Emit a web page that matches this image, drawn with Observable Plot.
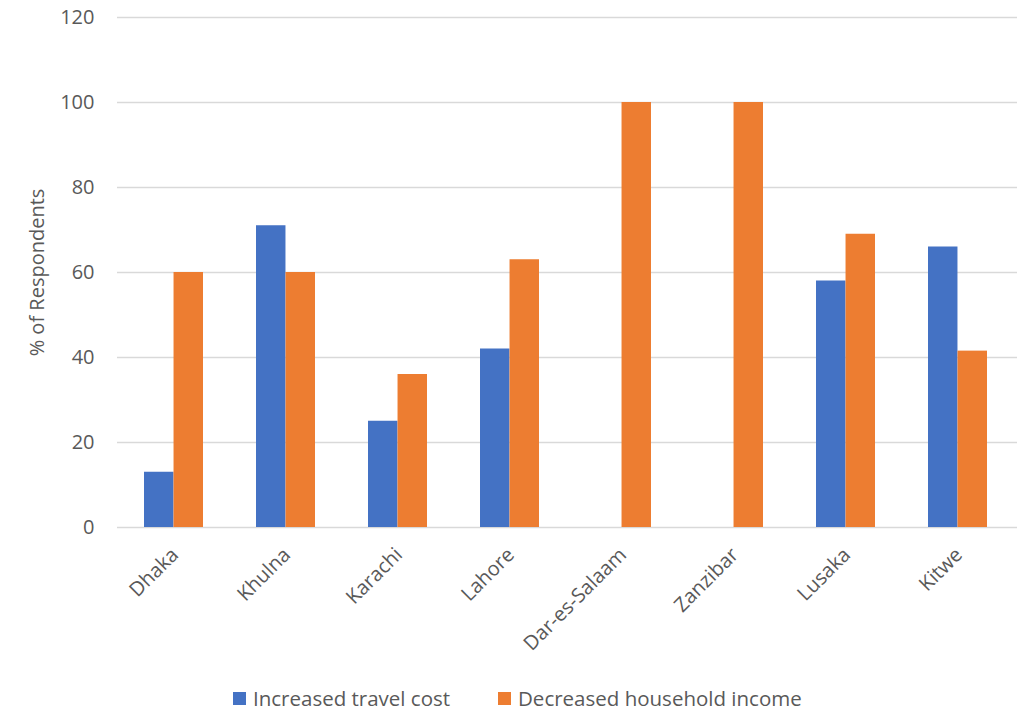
<!DOCTYPE html>
<html>
<head>
<meta charset="utf-8">
<script src="https://cdn.jsdelivr.net/npm/d3@7"></script>
<script src="https://cdn.jsdelivr.net/npm/@observablehq/plot@0.6"></script>
<style>
  body { margin: 0; background: #fff; font-family: "Open Sans", sans-serif; }
  #chart { width: 1023px; }
  .legend { position: relative; height: 33px; width: 1023px; }
  .legend .item { position: absolute; top: 9px; display: flex; align-items: center; font-size: 20.5px; color: #595959; line-height: 22px; white-space: nowrap; }
  .legend .sw { width: 13px; height: 13px; margin-right: 7px; display: inline-block; }
</style>
</head>
<body>
<div id="chart"></div>
<script>
const cities = ["Dhaka", "Khulna", "Karachi", "Lahore", "Dar-es-Salaam", "Zanzibar", "Lusaka", "Kitwe"];
const travelCost = [13, 71, 25, 42, 0, 0, 58, 66];
const householdIncome = [60, 60, 36, 63, 100, 100, 69, 41.5];
const seriesNames = ["Increased travel cost", "Decreased household income"];
const seriesColors = ["#4472C4", "#ED7D31"];
const yTicks = [0, 20, 40, 60, 80, 100, 120];

const W = 1023, H = 678, ML = 117, MR = 6, MT = 17, MB = 151;
const padInner = 0.475;
const step = (W - ML - MR) / cities.length;
const half = step * (1 - padInner) / 2;

const blueData = cities.map((c, i) => ({city: c, value: travelCost[i], series: seriesNames[0]}));
const orangeData = cities.map((c, i) => ({city: c, value: householdIncome[i], series: seriesNames[1]}));

const chart = Plot.plot({
  width: W, height: H,
  marginLeft: ML, marginRight: MR, marginTop: MT, marginBottom: MB,
  style: {fontFamily: "Open Sans, sans-serif", fontSize: "20px", color: "#595959", background: "white"},
  x: {domain: cities, paddingInner: padInner, paddingOuter: padInner / 2, range: [ML - 2, W - MR - 2]},
  y: {domain: [0, 120]},
  color: {domain: seriesNames, range: seriesColors},
  marks: [
    Plot.ruleY(yTicks, {stroke: "#d9d9d9", strokeWidth: 1.5}),
    Plot.barY(blueData.filter(d => d.value > 0), {x: "city", y: "value", fill: "series", insetRight: half}),
    Plot.barY(orangeData.filter(d => d.value > 0), {x: "city", y: "value", fill: "series", insetLeft: half}),
    Plot.axisY({ticks: yTicks, tickSize: 0, tickPadding: 23, fontSize: 20, label: "% of Respondents", labelAnchor: "center", labelOffset: 88, labelArrow: "none", fill: "#595959"}),
    Plot.axisX({tickRotate: -45, tickSize: 0, tickPadding: 24, dx: 1, fontSize: 20, label: null, fill: "#595959"})
  ]
});
document.getElementById("chart").appendChild(chart);

const legend = document.createElement("div");
legend.className = "legend";
const lefts = [233, 498];
seriesNames.forEach((name, i) => {
  const item = document.createElement("div");
  item.className = "item";
  item.style.left = lefts[i] + "px";
  const sw = document.createElement("span");
  sw.className = "sw";
  sw.style.background = seriesColors[i];
  item.appendChild(sw);
  item.appendChild(document.createTextNode(name));
  legend.appendChild(item);
});
document.body.appendChild(legend);
</script>
</body>
</html>
